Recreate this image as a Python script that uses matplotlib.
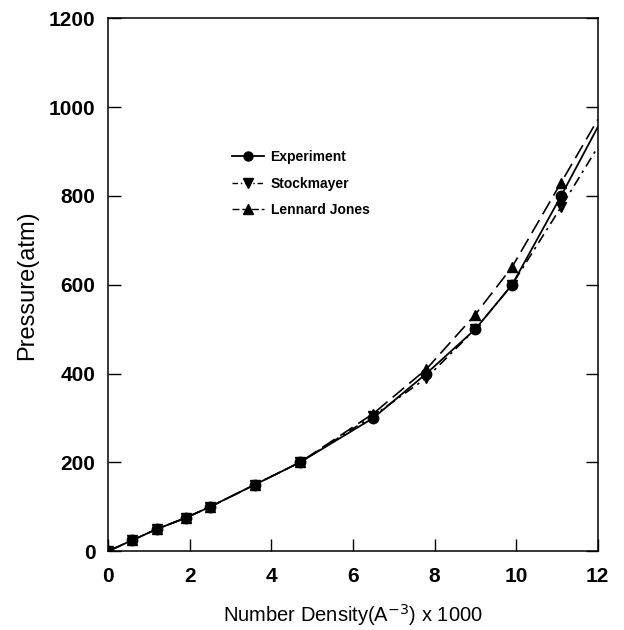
import matplotlib.pyplot as plt
import numpy as np

plt.rcParams['font.family'] = ['Liberation Sans', 'DejaVu Sans']

# number density (A^-3 x 1000) of the measured / simulated points
density = [0, 0.6, 1.2, 1.9, 2.5, 3.6, 4.7, 6.5, 7.8, 9.0, 9.9, 11.1]
experiment = [0, 25, 50, 75, 100, 150, 200, 300, 400, 500, 600, 800]
stockmayer = [0, 25, 50, 75, 100, 150, 200, 305, 390, 500, 600, 775]
lennard_jones = [0, 25, 50, 75, 100, 150, 200, 310, 410, 533, 640, 830]

# the fitted curves run on to the right edge of the plot
line_end_x = 12
exp_end, stock_end, lj_end = 955, 910, 972

fig, ax = plt.subplots(figsize=(6.24, 6.30), dpi=100)
fig.subplots_adjust(left=0.173, right=0.958, bottom=0.125, top=0.971)

# lines (extended to x=12)
ax.plot(density + [line_end_x], experiment + [exp_end], color='black',
        linestyle='-', linewidth=1.3)
ax.plot(density + [line_end_x], stockmayer + [stock_end], color='black',
        linestyle=(0, (6, 3, 1.5, 3)), linewidth=1.2)
ax.plot(density + [line_end_x], lennard_jones + [lj_end], color='black',
        linestyle=(0, (9, 4)), linewidth=1.2)

# markers
ax.plot(density, lennard_jones, linestyle='none', marker='^', color='black', markersize=7.5)
ax.plot(density, stockmayer, linestyle='none', marker='v', color='black', markersize=7.5)
ax.plot(density, experiment, linestyle='none', marker='o', color='black', markersize=7.5)

# legend handles
h1, = ax.plot([], [], color='black', linestyle='-', linewidth=1.3, marker='o', markersize=6.5)
h2, = ax.plot([], [], color='black', linestyle=(0, (4, 2, 1, 2)), linewidth=1.0, marker='v', markersize=6.5)
h3, = ax.plot([], [], color='black', linestyle=(0, (5, 2)), linewidth=1.0, marker='^', markersize=6.5)
leg = ax.legend([h1, h2, h3], ['Experiment', 'Stockmayer', 'Lennard Jones'],
                loc='upper left', bbox_to_anchor=(0.227, 0.776), frameon=False,
                handlelength=2.3, handletextpad=0.5, labelspacing=0.9,
                prop={'size': 10, 'weight': 'bold'})

ax.set_xlim(0, 12)
ax.set_ylim(0, 1200)
ax.set_xticks(np.arange(0, 13, 2))
ax.set_yticks(np.arange(0, 1201, 200))

ax.tick_params(direction='in', length=9, width=1.0, labelsize=15, pad=9,
               right=True, top=False)
ax.tick_params(axis='x', pad=11)
for lab in ax.get_xticklabels() + ax.get_yticklabels():
    lab.set_fontweight('bold')

for sp in ax.spines.values():
    sp.set_linewidth(1.1)

ax.set_xlabel(r'Number Density(A$^{-3}$) x 1000', fontsize=14.5, labelpad=12)
ax.set_ylabel('Pressure(atm)', fontsize=17, labelpad=8)

fig.savefig('out.png', dpi=100)
